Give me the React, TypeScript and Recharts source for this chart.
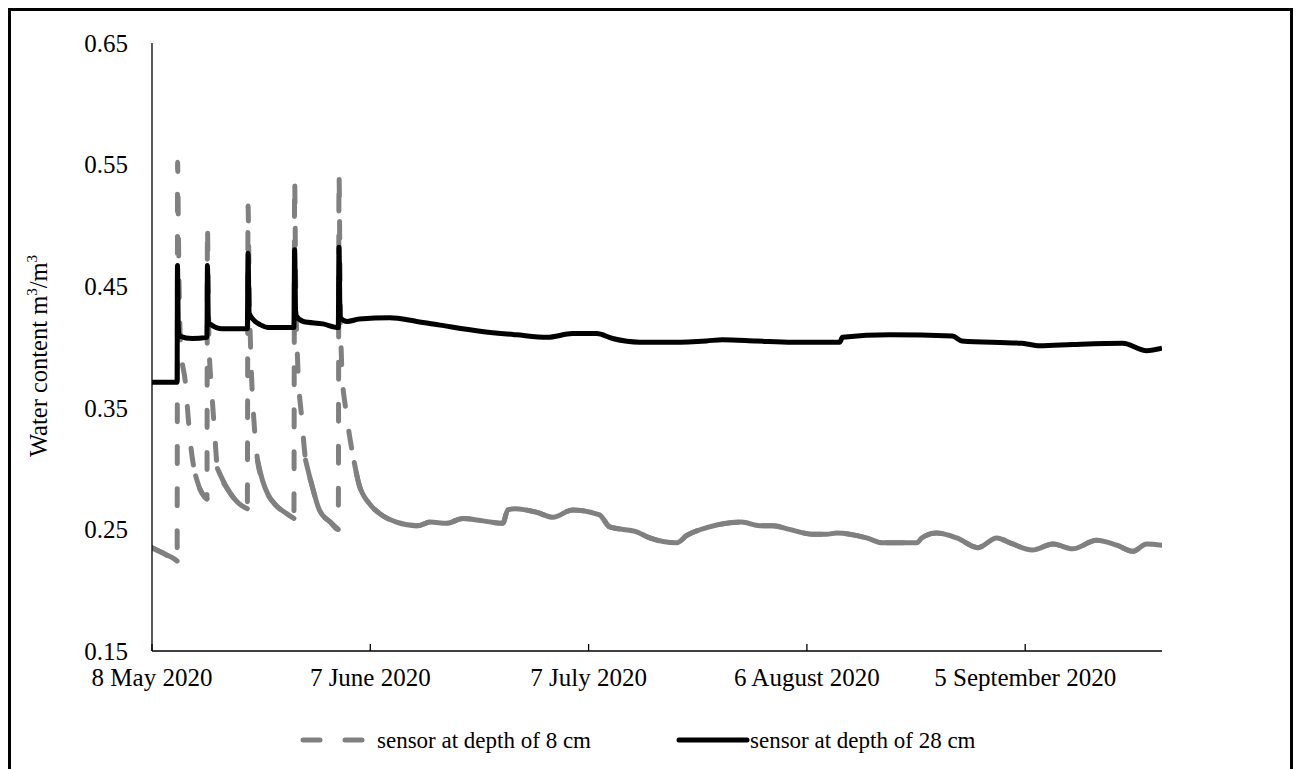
import { LineChart, Line, XAxis, YAxis, Legend } from 'recharts';

const FONT = '"Liberation Serif", "Times New Roman", serif';
const GRAY = '#808080';

// x axis is counted in days from 8 May 2020
const tickDays = [0, 30, 60, 90, 120];
const tickLabels = ['8 May 2020', '7 June 2020', '7 July 2020', '6 August 2020', '5 September 2020'];
const waterTicks = [0.15, 0.25, 0.35, 0.45, 0.55, 0.65];

// sensor at depth of 8 cm
const shallowDays = [
  0, 1.0, 2.0, 3.0, 3.45, 3.52, 3.62, 3.75, 3.95, 4.6, 5.0, 5.4, 6.0, 6.6, 7.2, 7.55,
  7.62, 7.72, 7.85, 8.2, 8.6, 9.0, 10.3, 12.0, 13.1,
  13.2, 13.35, 13.6, 14.0, 14.5, 15.2, 16.0, 17.0, 18.5, 19.5,
  19.6, 19.75, 20.0, 20.6, 21.1, 21.9, 23.0, 24.5, 25.6,
  25.7, 25.85, 26.1, 26.6, 27.2, 27.8, 28.4, 29.9, 31.3, 33.6, 36.5, 38.2, 40.5, 42.7,
  45.5, 48.2, 48.9, 49.9, 52.9, 55.1, 57.8, 61.5, 62.9, 66.6, 68.4, 72.1, 73.5, 76.6,
  81.0, 83.5, 85.3, 87.6, 90.8, 92.7, 94.1, 98.2, 100.4, 105.1, 105.8, 107.8, 110.6,
  113.5, 116.1, 117.9, 121.0, 123.8, 126.5, 129.8, 132.6, 134.8, 136.7, 138.8,
];
const shallowWater = [
  0.235, 0.232, 0.229, 0.226, 0.224, 0.552, 0.5, 0.44, 0.4, 0.37, 0.34, 0.315, 0.294, 0.283, 0.277, 0.275,
  0.5, 0.45, 0.4, 0.365, 0.33, 0.3, 0.284, 0.271, 0.267,
  0.516, 0.45, 0.39, 0.34, 0.307, 0.29, 0.278, 0.27, 0.263, 0.259,
  0.537, 0.45, 0.39, 0.34, 0.307, 0.288, 0.266, 0.256, 0.25,
  0.542, 0.45, 0.38, 0.35, 0.325, 0.305, 0.288, 0.271, 0.263, 0.256, 0.253, 0.256, 0.255, 0.259,
  0.257, 0.255, 0.266, 0.267, 0.264, 0.26, 0.266, 0.262, 0.252, 0.248, 0.243, 0.239, 0.245, 0.252,
  0.256, 0.253, 0.253, 0.25, 0.246, 0.246, 0.247, 0.243, 0.239, 0.239, 0.243, 0.247, 0.243,
  0.235, 0.243, 0.239, 0.233, 0.238, 0.234, 0.241, 0.237, 0.232, 0.238, 0.237,
];

// sensor at depth of 28 cm
const deepDays = [
  0, 1.7, 3.45, 3.5, 3.62, 3.8, 5.5, 7.55, 7.62, 7.75, 8.2, 9.6, 13.1,
  13.2, 13.35, 14.0, 15.0, 16.0, 19.5, 19.6, 19.75, 20.8, 23.5, 25.6,
  25.7, 25.85, 26.8, 28.5, 32.7, 36.4, 39.6, 45.1, 50.1, 54.3, 57.8, 61.1, 63.3,
  67.0, 71.6, 76.2, 78.4, 83.1, 88.0, 94.5, 94.9, 101.4, 110.0, 111.3, 119.6,
  122.0, 126.5, 133.4, 136.7, 138.8,
];
const deepWater = [
  0.371, 0.371, 0.371, 0.467, 0.415, 0.409, 0.407, 0.408, 0.467, 0.42, 0.418, 0.415, 0.415,
  0.477, 0.428, 0.422, 0.418, 0.416, 0.416, 0.48, 0.426, 0.421, 0.419, 0.416,
  0.482, 0.424, 0.421, 0.423, 0.424, 0.421, 0.418, 0.413, 0.41, 0.408, 0.411, 0.411, 0.407,
  0.404, 0.404, 0.405, 0.406, 0.405, 0.404, 0.404, 0.408, 0.41, 0.409, 0.405, 0.403,
  0.401, 0.402, 0.403, 0.397, 0.399,
];

type Pt = { day: number; water: number | null };

const shallowData: Pt[] = shallowDays.map((day, i) => ({ day, water: shallowWater[i] }));
const deepData: Pt[] = deepDays.map((day, i) => ({ day, water: deepWater[i] }));

// The dashed pattern only shows on steep stretches; gentle stretches read as a
// solid stroke, so those runs get a solid overlay (null rows break the runs).
const FLAT_SLOPE = 0.03;
const shallowFlat: Pt[] = [];
let prevFlat = false;
for (let i = 0; i < shallowData.length - 1; i++) {
  const a = shallowData[i];
  const b = shallowData[i + 1];
  const flat = Math.abs((b.water as number) - (a.water as number)) / (b.day - a.day) < FLAT_SLOPE;
  if (flat) {
    if (!prevFlat) shallowFlat.push(a);
    shallowFlat.push(b);
  } else if (prevFlat) {
    shallowFlat.push({ day: (a.day + b.day) / 2, water: null });
  }
  prevFlat = flat;
}

function DateTick({ x, y, payload }: { x: number; y: number; payload: { value: number } }) {
  const idx = tickDays.indexOf(payload.value);
  return (
    <g>
      <line x1={x} x2={x} y1={y - 7} y2={y} stroke='#000' strokeWidth={1.3} />
      <text x={x} y={y + 35} textAnchor='middle' fontFamily={FONT} fontSize={25} fill='#000'>
        {tickLabels[idx]}
      </text>
    </g>
  );
}

function WaterLabel() {
  return (
    <text
      x={36}
      y={345}
      transform='rotate(-90, 36, 345)'
      textAnchor='middle'
      fontFamily={FONT}
      fontSize={24.5}
      fill='#000'
    >
      Water content m
      <tspan fontSize={15} dy={-10}>3</tspan>
      <tspan dy={10}>/m</tspan>
      <tspan fontSize={15} dy={-10}>3</tspan>
    </text>
  );
}

function SensorLegend() {
  return (
    <svg width={1279} height={78} style={{ display: 'block' }}>
      <line
        x1={292}
        x2={352}
        y1={49}
        y2={49}
        stroke={GRAY}
        strokeWidth={5}
        strokeDasharray='17 25'
        strokeLinecap='round'
      />
      <text x={366} y={57} fontFamily={FONT} fontSize={23} fill='#000'>
        sensor at depth of 8 cm
      </text>
      <line x1={668} x2={736} y1={49} y2={49} stroke='#000' strokeWidth={5} strokeLinecap='round' />
      <text x={739} y={57} fontFamily={FONT} fontSize={23} fill='#000'>
        sensor at depth of 28 cm
      </text>
    </svg>
  );
}

export default function App() {
  return (
    <div style={{ border: '3px solid #000', width: 1279, height: 770, background: '#fff' }}>
      <LineChart width={1279} height={758} margin={{ top: 32, right: 128, left: 0, bottom: 0 }}>
        <XAxis
          type='number'
          dataKey='day'
          domain={[0, 138.8]}
          ticks={tickDays}
          tick={DateTick as any}
          tickSize={0}
          tickMargin={0}
          height={40}
          axisLine={{ stroke: '#000', strokeWidth: 1.3 }}
          allowDataOverflow
        />
        <YAxis
          type='number'
          domain={[0.15, 0.65]}
          ticks={waterTicks}
          width={141}
          tickSize={0}
          tickMargin={24}
          tickFormatter={(v: number) => v.toFixed(2)}
          tick={{ fontFamily: FONT, fontSize: 25, fill: '#000' }}
          axisLine={{ stroke: '#000', strokeWidth: 1.3 }}
          label={<WaterLabel />}
        />
        <Legend verticalAlign='bottom' wrapperStyle={{ left: 0, width: 1279 }} content={<SensorLegend />} />
        <Line
          type='monotone'
          data={shallowData}
          dataKey='water'
          name='sensor at depth of 8 cm'
          stroke={GRAY}
          strokeWidth={5}
          strokeDasharray='17 25'
          strokeLinecap='round'
          strokeLinejoin='round'
          dot={false}
          activeDot={false}
          isAnimationActive={false}
        />
        <Line
          type='monotone'
          data={shallowFlat}
          dataKey='water'
          legendType='none'
          stroke={GRAY}
          strokeWidth={5}
          strokeLinecap='round'
          strokeLinejoin='round'
          dot={false}
          activeDot={false}
          isAnimationActive={false}
        />
        <Line
          type='monotone'
          data={deepData}
          dataKey='water'
          name='sensor at depth of 28 cm'
          stroke='#000'
          strokeWidth={5}
          strokeLinejoin='round'
          dot={false}
          activeDot={false}
          isAnimationActive={false}
        />
      </LineChart>
    </div>
  );
}
